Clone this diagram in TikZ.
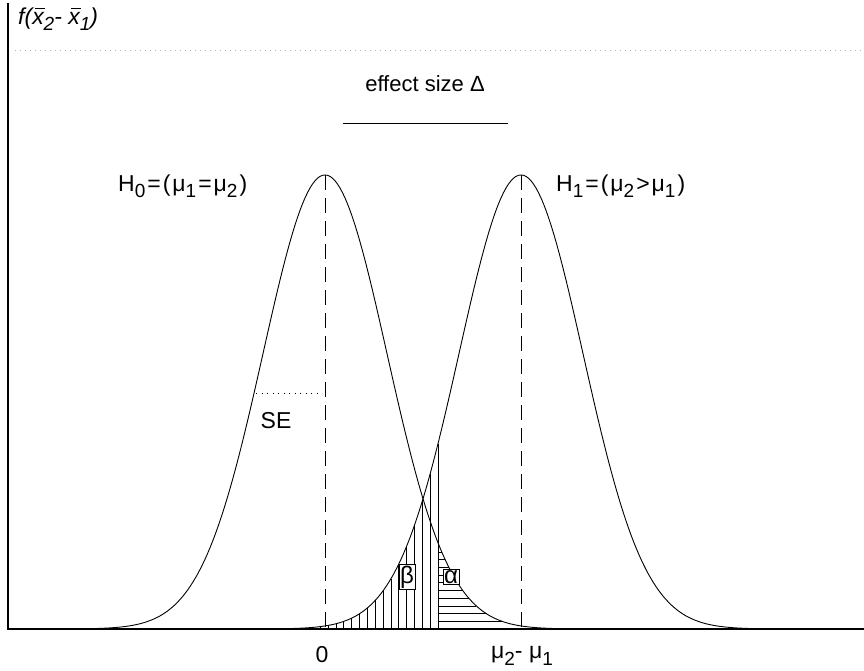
\documentclass[tikz,border=0pt]{standalone}
\usepackage{fontspec}
\setmainfont{Liberation Sans}
\newcommand\xbarx{\ooalign{x\cr\hidewidth\kern0.16em\raisebox{0.66em}{\rule{0.42em}{0.06em}}\hidewidth\cr}}
\newcommand\sbs[1]{\raisebox{-0.28em}{\fontsize{19}{22}\selectfont #1}}
\newcommand\sbf[1]{\raisebox{-0.28em}{\fontsize{19}{22}\selectfont #1}}
\newcommand\kk{\kern2pt}
\tikzset{
  lbl/.style={font=\fontsize{23}{27}\selectfont, inner sep=0pt},
  curve/.style={line width=0.9pt},
  hatch/.style={line width=0.8pt},
  greekbox/.style={draw, fill=white, line width=0.7pt, inner sep=1pt, font=\fontsize{24}{28}\selectfont},
}
\begin{document}
\begin{tikzpicture}[x=1pt,y=-1pt]
\useasboundingbox (0,0) rectangle (864,671);
% axes
\coordinate (ytop) at (8,3);
\coordinate (orig) at (8,629);
\coordinate (xend) at (864,629);
\draw[line width=1.4pt] (ytop) -- (orig) -- (xend);
\coordinate (dl) at (15,50);
\coordinate (dr) at (864,50);
\draw[gray!60, line width=0.6pt, dash pattern=on 1pt off 4pt] (dl) -- (dr);
% curves
\draw[curve] plot[domain=15:635, samples=249] (\x, {629-454*exp(-0.5*((\x-325)/62)^2)});
\draw[curve] plot[domain=211:831, samples=249] (\x, {629-454*exp(-0.5*((\x-521)/62)^2)});
% dashed lines
\coordinate (p0) at (325,175);
\coordinate (b0) at (325,629);
\coordinate (p1) at (521,175);
\coordinate (b1) at (521,629);
\draw[line width=0.9pt, dash pattern=on 15pt off 8pt] (p0) -- (b0);
\draw[line width=0.9pt, dash pattern=on 15pt off 8pt] (p1) -- (b1);
% beta hatch (vertical)
\foreach \k in {0,...,17} {
  \pgfmathsetmacro\xx{438-\k*7.85}
  \pgfmathsetmacro\yy{629-454*exp(-0.5*((\xx-521)/62)^2)}
  \draw[hatch] (\xx,629) -- (\xx,\yy);
}
% alpha hatch (horizontal)
\foreach \k in {1,...,10} {
  \pgfmathsetmacro\hh{\k*7.7}
  \pgfmathsetmacro\xe{325+62*sqrt(2*ln(454/\hh))}
  \draw[hatch] (438,{629-\hh}) -- (\xe,{629-\hh});
}
% SE
\coordinate (se1) at (256,393);
\coordinate (se2) at (322,393);
\draw[line width=0.9pt, dash pattern=on 1.2pt off 4.3pt] (se1) -- (se2);
\node[lbl] (se) at (276,421) {SE};
% boxes
\node[greekbox] (beta) at (407,577) {β};
\node[greekbox] (alpha) at (451,577) {α};
% effect size
\node[lbl, font=\fontsize{22}{26}\selectfont] (eff) at (425,84) {effect size Δ};
\coordinate (e1) at (343,123);
\coordinate (e2) at (508,123);
\draw[line width=0.9pt] (e1) -- (e2);
% hypothesis labels
\node[lbl, anchor=west] (h0) at (118,186) {H\sbs{0}\kk=\kk(\kk μ\sbs{1}\kk=\kk μ\sbs{2}\kk)};
\node[lbl, anchor=west] (h1) at (556,186) {H\sbs{1}\kk=\kk(\kk μ\sbs{2}\kk>\kk μ\sbs{1}\kk)};
% axis labels
\node[lbl] (zero) at (322,655) {0};
\node[lbl] (diff) at (522,656) {μ\sbs{2}- μ\sbs{1}};
\node[lbl, anchor=west, font=\fontsize{23}{27}\selectfont\itshape] (fy) at (18,19) {f(\xbarx\sbf{2}- \xbarx\sbf{1})};
\end{tikzpicture}
\end{document}
